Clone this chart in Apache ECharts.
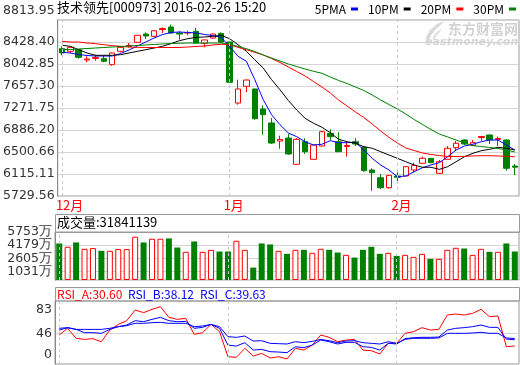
<!DOCTYPE html>
<html><head><meta charset="utf-8">
<script src="https://cdn.jsdelivr.net/npm/echarts@6/dist/echarts.min.js"></script>
<style>html,body{margin:0;padding:0;background:#fff}#c{width:520px;height:365px}</style>
</head><body><div id="c"></div>
<script>
// ---- data ----
const DATES = [
 '2015-12-04','2015-12-07','2015-12-08','2015-12-09','2015-12-10','2015-12-11','2015-12-14','2015-12-15','2015-12-16','2015-12-17',
 '2015-12-18','2015-12-21','2015-12-22','2015-12-23','2015-12-24','2015-12-25','2015-12-28','2015-12-29','2015-12-30','2015-12-31',
 '2016-01-04','2016-01-05','2016-01-06','2016-01-07','2016-01-08','2016-01-11','2016-01-12','2016-01-13','2016-01-14','2016-01-15',
 '2016-01-18','2016-01-19','2016-01-20','2016-01-21','2016-01-22','2016-01-25','2016-01-26','2016-01-27','2016-01-28','2016-01-29',
 '2016-02-01','2016-02-02','2016-02-03','2016-02-04','2016-02-05','2016-02-15','2016-02-16','2016-02-17','2016-02-18','2016-02-19',
 '2016-02-22','2016-02-23','2016-02-24','2016-02-25','2016-02-26'];
const OPEN  = [8311,8265,8293,8114,8140,8136,8031,8265,8350,8423,8568,8528,8647,8691,8586,8586,8616,8406,8498,8577,
               8428,7359,7652,7605,7254,7009,6693,6746,6285,6681,6373,6606,6828,6681,6597,6681,6583,6185,6050,5875,
               6080,6080,6185,6303,6390,6127,6373,6576,6711,6618,6755,6799,6720,6711,6255];
const CLOSE = [8236,8335,8160,8131,8157,8090,8236,8335,8366,8546,8533,8626,8665,8586,8568,8595,8411,8464,8568,8428,
               7722,7605,7762,7084,7154,6658,6720,6466,6723,6506,6623,6857,6769,6506,6614,6641,6173,6138,5875,6092,
               6057,6243,6267,6390,6313,6331,6565,6653,6641,6664,6772,6711,6737,6215,6235];
const LOW   = [8195,8230,8136,8073,8101,8073,8013,8248,8332,8420,8482,8520,8586,8574,8469,8546,8402,8336,8490,8411,
               7715,7330,7552,7066,6804,6641,6558,6453,6280,6466,6370,6600,6711,6506,6418,6606,6155,5822,5852,5857,
               5952,6075,6138,6300,6305,6115,6370,6523,6623,6606,6699,6641,6606,6173,6098];
const HIGH  = [8353,8350,8300,8178,8206,8188,8245,8345,8411,8550,8598,8636,8686,8732,8616,8626,8674,8472,8577,8598,
               8432,7768,7770,7610,7319,7096,6786,6816,6741,6741,6636,6874,6898,6846,6681,6741,6606,6215,6115,6097,
               6145,6255,6313,6418,6395,6360,6606,6693,6723,6711,6781,6805,6769,6723,6290];
const MA5  = [8248,8236,8209,8192,8183,8183,8183,8227,8288,8358,8428,8499,8560,8595,8604,8595,8586,8560,8542,8507,
              8353,8178,8090,7768,7420,7154,6979,6834,6769,6681,6623,6636,6699,6664,6664,6671,6536,6390,6273,6185,
              6068,6080,6155,6226,6273,6313,6418,6536,6606,6636,6681,6711,6711,6623,6536];
const MA10 = [8371,8353,8293,8236,8195,8195,8195,8206,8236,8265,8293,8323,8353,8399,8451,8486,8511,8516,8528,8546,
              8486,8381,8265,8118,7973,7768,7592,7403,7237,7091,7004,6934,6839,6723,6681,6653,6594,6566,6506,6448,
              6390,6331,6273,6233,6233,6197,6243,6331,6418,6478,6523,6548,6583,6566,6536];
const MA20 = [8441,8428,8428,8411,8399,8381,8364,8353,8341,8335,8332,8332,8332,8332,8332,8341,8350,8358,8376,8388,
              8381,8335,8293,8248,8201,8139,8069,7990,7911,7833,7736,7640,7535,7412,7307,7202,7105,6991,6869,6758,
              6658,6571,6527,6483,6457,6439,6422,6422,6425,6431,6436,6436,6431,6425,6418];
const MA30 = [8297,8297,8306,8314,8323,8332,8341,8350,8358,8367,8376,8385,8393,8402,8406,8411,8411,8411,8411,8411,
              8393,8350,8311,8262,8201,8148,8095,8043,7999,7955,7915,7880,7815,7754,7701,7640,7578,7500,7412,7333,
              7254,7167,7070,6983,6895,6816,6764,6711,6658,6611,6597,6580,6562,6536,6501];
// volume, in 万
const VOLUME = [4378,3980,4498,3739,3823,3497,3497,3702,3702,5186,4498,4945,4945,4981,3895,3377,4619,3377,3618,3413,
                3413,4703,3618,1483,4378,4257,3497,3136,3618,3618,3256,3739,3618,3292,3015,2689,3618,3980,3136,3256,
                2894,3015,2774,3136,2533,2533,3618,3859,3775,3015,3739,3377,3377,4378,3413];
const RSI_A = [43.9,52.1,39.9,38.6,39.5,35.8,50.0,56.9,61.4,74.4,71.2,75.2,78.5,65.5,63.0,64.3,44.7,46.8,56.9,48.0,
               17.5,16.7,27.7,18.3,21.6,15.9,17.5,14.7,27.7,25.6,31.7,43.9,41.1,35.8,37.8,38.6,25.6,24.8,20.8,33.8,
               33.8,46.0,48.0,52.9,50.0,50.8,68.3,69.5,68.3,70.3,75.2,66.3,67.1,29.7,30.60];
const RSI_B = [50.0,52.9,50.8,46.8,46.8,46.0,50.8,54.1,56.1,61.4,60.2,63.0,65.5,61.4,60.2,60.6,52.1,53.3,56.9,52.1,
               31.7,30.5,34.6,25.6,26.4,23.6,23.2,22.4,29.7,28.5,31.7,37.8,35.8,33.0,35.0,35.0,29.7,28.9,25.6,33.8,
               33.0,39.5,40.7,41.1,41.1,41.5,50.0,52.1,52.9,54.1,56.1,53.3,53.3,39.0,38.12];
const RSI_C = [52.1,52.9,50.8,50.8,50.8,50.8,52.1,54.1,55.3,58.2,58.2,59.0,59.4,58.2,58.2,58.2,54.1,54.9,56.9,54.1,
               41.9,41.1,42.7,36.6,37.0,33.8,33.4,33.0,35.8,34.6,36.2,38.6,37.0,34.6,36.6,37.0,34.6,33.8,33.0,35.8,
               33.8,38.6,39.9,39.9,39.9,40.3,46.0,46.0,46.0,46.4,47.2,46.0,46.0,40.3,39.63];
const PRICE_TICKS = [5729.56,6115.11,6500.66,6886.20,7271.75,7657.30,8042.85,8428.40,8813.95];
const VOL_TICKS = [0,1031,2605,4179,5753];
const RSI_TICK_LABELS = ['0','46','83'];
const MA_NAMES = ['5PMA','10PM','20PM','30PM'];
const TITLE = '技术领先[000973] 2016-02-26 15:20';
const VOL_TITLE = '成交量:31841139';
const RSI_TITLES = ['RSI_A:30.60','RSI_B:38.12','RSI_C:39.63'];

// ---- build ----
const UP = '#ff0000', DOWN = '#008000';
const kData = DATES.map((d,i)=>[OPEN[i],CLOSE[i],LOW[i],HIGH[i]]);
const isUp = i => CLOSE[i] >= OPEN[i];
const volData = VOLUME.map((v,i)=>({value:v, itemStyle: isUp(i)
   ? {color:'#ffffff', borderColor:UP, borderWidth:1}
   : {color:DOWN, borderColor:DOWN, borderWidth:0}}));
const monthStarts = DATES.filter((d,i)=> i===0 || d.slice(5,7)!==DATES[i-1].slice(5,7));
const monthLine = {silent:true, symbol:'none', animation:false, label:{show:false},
  lineStyle:{color:'#c8c8c8', type:[3,3], width:1},
  data: monthStarts.map(d=>({xAxis:d}))};
const GRID_BORDER = '#9a9a9a', SPLIT = '#d4d4d4';
const numFont = 'DejaVu Sans', cjk = '"Noto Sans CJK SC", sans-serif';
const RSI_AT = [19.5, 46, 74.4];
const TOP_PRICE = PRICE_TICKS[PRICE_TICKS.length-1];

const xBase = (g, showLabel) => ({
  type:'category', gridIndex:g, data:DATES, boundaryGap:true,
  axisLine:{show:false}, axisTick:{show:false}, splitLine:{show:false},
  axisLabel: showLabel ? {
    show:true, color:'#ff0000', fontSize:13, fontFamily:cjk, margin:3, align:'left', padding:[0,0,0,-6],
    interval:(i)=> monthStarts.indexOf(DATES[i])>=0,
    formatter:(v)=> parseInt(v.slice(5,7),10)+'月'
  } : {show:false}
});

const chart = echarts.init(document.getElementById('c'), null, {renderer:'canvas'});
chart.setOption({
  animation:false,
  backgroundColor:'#ffffff',
  title:[
    {text:TITLE, left:57, top:1, padding:0, textStyle:{fontSize:13, fontWeight:'normal', color:'#000', fontFamily:cjk}},
    {text:VOL_TITLE, left:57, top:216, padding:0, textStyle:{fontSize:13, fontWeight:'normal', color:'#000', fontFamily:cjk}},
    {text:RSI_TITLES[0], left:57, top:288, padding:0, textStyle:{fontSize:12, fontWeight:'normal', color:'#ff0000', fontFamily:cjk}},
    {text:RSI_TITLES[1], left:128, top:288, padding:0, textStyle:{fontSize:12, fontWeight:'normal', color:'#0000ff', fontFamily:cjk}},
    {text:RSI_TITLES[2], left:200, top:288, padding:0, textStyle:{fontSize:12, fontWeight:'normal', color:'#0000ff', fontFamily:cjk}}
  ],
  legend:{
    right:4, top:3, align:'right', itemWidth:7, itemHeight:3, itemGap:10, padding:0,
    textStyle:{fontSize:12, color:'#000', fontFamily:cjk, padding:[0,0,0,0]},
    data: MA_NAMES.map(n=>({name:n, icon:'rect'})), selectedMode:false
  },
  graphic:[
    {type:'rect', shape:{x:55.5, y:214.5, width:464, height:18}, style:{fill:'none', stroke:GRID_BORDER, lineWidth:1}, z:1},
    {type:'rect', shape:{x:55.5, y:287.5, width:464, height:13.5}, style:{fill:'none', stroke:GRID_BORDER, lineWidth:1}, z:1},
    {type:'polygon', z:0, shape:{points:[[445,21],[437,24],[430,30],[426,37],[427,45],[430,37],[435,30]]}, style:{fill:'#d8d8d8'}},
    {type:'polygon', z:0, shape:{points:[[443,28],[437,32],[433,37],[433,42],[436,36]]}, style:{fill:'#dcdcdc'}},
    {type:'text', left:448, top:22, z:0, style:{text:'东方财富网', fill:'#d2d2d2', font:'bold 14px "Noto Sans CJK SC"'}},
    {type:'text', left:425, top:37, z:0, style:{text:'eastmoney.com', fill:'#d6d6d6', font:'bold italic 11px "DejaVu Sans"'}}
  ],
  grid:[
    {left:55, top:20, width:464, height:176, show:true, borderColor:GRID_BORDER, borderWidth:1},
    {left:55, top:232, width:464, height:48, show:true, borderColor:GRID_BORDER, borderWidth:1},
    {left:55, top:301, width:464, height:63, show:true, borderColor:GRID_BORDER, borderWidth:1}
  ],
  xAxis:[ xBase(0,true), xBase(1,false), xBase(2,false) ],
  yAxis:[
    {type:'value', gridIndex:0, min:PRICE_TICKS[0], max:TOP_PRICE,
     axisLine:{show:true, lineStyle:{color:'#888'}},
     axisTick:{show:false, customValues:PRICE_TICKS},
     axisLabel:{customValues:PRICE_TICKS,
       formatter:v=> v===TOP_PRICE ? '{top|'+v.toFixed(2)+'}' : v.toFixed(2),
       rich:{top:{padding:[0,0,18,0], color:'#333', fontSize:12.5, fontFamily:numFont}},
       color:'#333', fontSize:12.5, fontFamily:numFont, margin:3},
     splitLine:{show:true, customValues:PRICE_TICKS, lineStyle:{color:SPLIT}}},
    {type:'value', gridIndex:1, min:VOL_TICKS[0], max:VOL_TICKS[VOL_TICKS.length-1],
     axisLine:{show:true, lineStyle:{color:'#888'}},
     axisTick:{show:false, customValues:VOL_TICKS},
     axisLabel:{customValues:VOL_TICKS, formatter:v=> v===0 ? '0' : v+'万', color:'#333', fontSize:12.5, fontFamily:numFont, margin:3},
     splitLine:{show:true, lineStyle:{color:SPLIT}}},
    {type:'value', gridIndex:2, min:8.6, max:85.4,
     axisLine:{show:true, lineStyle:{color:'#888'}},
     axisTick:{show:false, customValues:[46]},
     axisLabel:{customValues:RSI_AT, formatter:v=> RSI_TICK_LABELS[RSI_AT.indexOf(v)], color:'#333', fontSize:12.5, fontFamily:numFont, margin:3},
     splitLine:{show:true, customValues:[46], lineStyle:{color:SPLIT}}}
  ],
  series:[
    {name:'K', type:'candlestick', xAxisIndex:0, yAxisIndex:0, data:kData, barWidth:6,
     itemStyle:{color:'#ffffff', color0:DOWN, borderColor:UP, borderColor0:DOWN, borderWidth:1},
     markLine:monthLine, z:2},
    {name:MA_NAMES[0], type:'line', xAxisIndex:0, yAxisIndex:0, data:MA5, showSymbol:false, symbol:'none', lineStyle:{color:'#0000ff', width:1}, itemStyle:{color:'#0000ff'}, z:3},
    {name:MA_NAMES[1], type:'line', xAxisIndex:0, yAxisIndex:0, data:MA10, showSymbol:false, symbol:'none', lineStyle:{color:'#000000', width:1}, itemStyle:{color:'#000000'}, z:3},
    {name:MA_NAMES[2], type:'line', xAxisIndex:0, yAxisIndex:0, data:MA20, showSymbol:false, symbol:'none', lineStyle:{color:'#ff0000', width:1}, itemStyle:{color:'#ff0000'}, z:3},
    {name:MA_NAMES[3], type:'line', xAxisIndex:0, yAxisIndex:0, data:MA30, showSymbol:false, symbol:'none', lineStyle:{color:'#008000', width:1}, itemStyle:{color:'#008000'}, z:3},
    {name:'VOL', type:'bar', xAxisIndex:1, yAxisIndex:1, data:volData, barWidth:6, markLine:monthLine},
    {name:'RSI_A', type:'line', xAxisIndex:2, yAxisIndex:2, data:RSI_A, symbol:'none', lineStyle:{color:'#ff0000', width:1}, markLine:monthLine},
    {name:'RSI_B', type:'line', xAxisIndex:2, yAxisIndex:2, data:RSI_B, symbol:'none', lineStyle:{color:'#0000ff', width:1}},
    {name:'RSI_C', type:'line', xAxisIndex:2, yAxisIndex:2, data:RSI_C, symbol:'none', lineStyle:{color:'#0000ff', width:1}}
  ]
});
</script></body></html>
